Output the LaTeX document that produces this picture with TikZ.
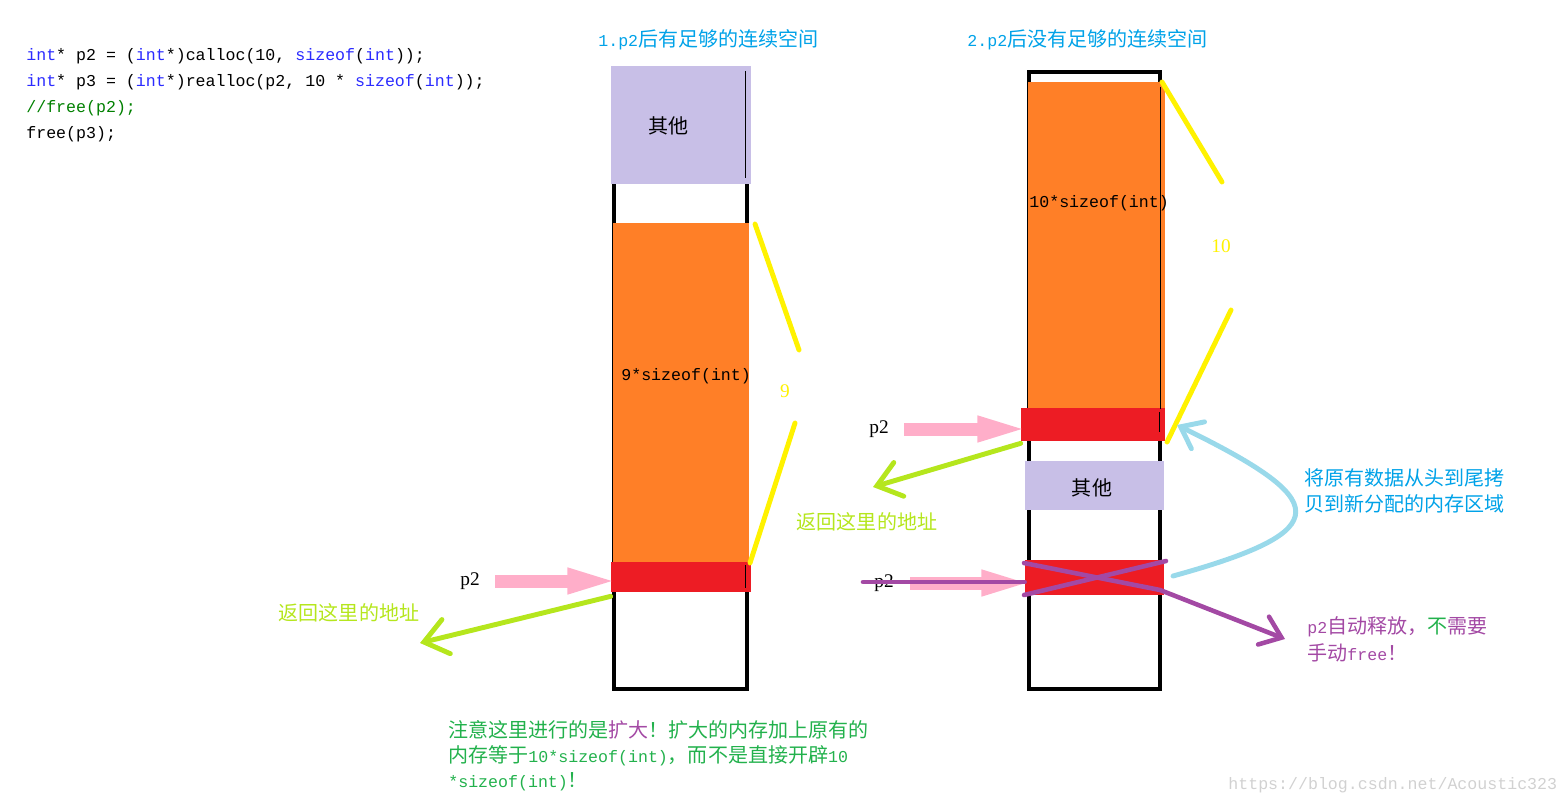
\documentclass[tikz,border=0pt]{standalone}
\usepackage{fontspec}
\setmainfont{Liberation Serif}
\setmonofont{Liberation Mono}
\newfontfamily\zhfont{Noto Sans CJK SC}
\usetikzlibrary{arrows.meta}

\definecolor{lav}{HTML}{C8BFE7}
\definecolor{orng}{HTML}{FF7F27}
\definecolor{redc}{HTML}{ED1C24}
\definecolor{yell}{HTML}{FFF200}
\definecolor{pinkc}{HTML}{FFAEC9}
\definecolor{lime}{HTML}{B5E61D}
\definecolor{skyc}{HTML}{99D9EA}
\definecolor{titleblue}{HTML}{00A2E8}
\definecolor{notegreen}{HTML}{22B14C}
\definecolor{purp}{HTML}{A349A4}
\definecolor{codeblue}{HTML}{2B2BFF}
\definecolor{codegreen}{HTML}{008000}

\newcommand{\cnsize}{\zhfont\fontsize{11.4}{14.7}\selectfont}
\newcommand{\ttsize}{\ttfamily\fontsize{9.45}{14.7}\selectfont}
\newcommand{\rmsize}{\rmfamily\fontsize{11}{14.7}\selectfont}
\newcommand{\kw}[1]{\textcolor{codeblue}{#1}}

\begin{document}
\begin{tikzpicture}[x=0.02cm, y=-0.02cm,
    cell/.style n args={3}{rectangle, inner sep=0pt, fill=#1, minimum width=#2, minimum height=#3},
    txt/.style={inner sep=0pt, anchor=west},
    wall/.style={draw=black, line width=2.27pt},
    pinkarrow/.style={draw=pinkc, line width=7.4pt, shorten >=-0.26cm, -{Triangle[length=32pt, width=12.5pt]}},
    retarrow/.style={draw=lime, line width=2.8pt, line cap=round, -{Straight Barb[length=13pt, width=20pt, line cap=round]}},
    purparrow/.style={draw=purp, line width=2.6pt, line cap=round, -{Straight Barb[length=11pt, width=17pt, line cap=round]}},
    purpline/.style={draw=purp, line width=2.6pt, line cap=round},
    copyarrow/.style={draw=skyc, line width=2.8pt, line cap=round, -{Straight Barb[length=11pt, width=17pt, line cap=round]}},
    bracket/.style={draw=yell, line width=2.8pt, line cap=round}]
    \useasboundingbox (0,0) rectangle (1567,804);

    % code
    \node[txt] (code1) at (26,56) {\ttsize\kw{int}* p2 = (\kw{int}*)calloc(10, \kw{sizeof}(\kw{int}));};
    \node[txt] (code2) at (26,82) {\ttsize\kw{int}* p3 = (\kw{int}*)realloc(p2, 10 * \kw{sizeof}(\kw{int}));};
    \node[txt] (code3) at (26,108) {\ttsize\textcolor{codegreen}{//free(p2);}};
    \node[txt] (code4) at (26,134) {\ttsize free(p3);};

    % titles
    \node[txt, text=titleblue] (title1) at (598,40) {{\ttsize 1.p2}\cnsize 后有足够的连续空间};
    \node[txt, text=titleblue] (title2) at (967,40) {{\ttsize 2.p2}\cnsize 后没有足够的连续空间};

    % case 1
    \draw[wall] (614,72) rectangle (747,689);
    \node[cell={lav}{2.8cm}{2.36cm}] (other1) at (681,125) {};
    \node[cell={orng}{2.72cm}{6.78cm}] (orange1) at (681,392.5) {};
    \node[cell={redc}{2.8cm}{0.6cm}] (red1) at (681,577) {};
    \draw[thin] (745,71) -- (745,178);
    \draw[thin] (745,565) -- (745,588);
    \node[txt] (otherlabel1) at (648,126) {\cnsize 其他};
    \node[txt] (size1) at (621,376) {\ttsize 9*sizeof(int)};
    \node (count1) at (785,391) {\rmsize\textcolor{yell}{9}};
    \draw[bracket] (755,224) -- (799,350);
    \draw[bracket] (795,423) -- (750,563);

    \node[txt] (p2a) at (460,581) {\rmsize p2};
    \draw[pinkarrow, shorten <=0.3cm] (p2a.east) -- (p2a.east -| red1.west);
    \coordinate (ret1) at (420,643);
    \draw[retarrow] ([yshift=-0.08cm]red1.south west) -- (ret1);
    \node (retlabel1) at (349,613) {\cnsize\textcolor{lime}{返回这里的地址}};

    % case 2
    \draw[wall] (1029,72) rectangle (1160,689);
    \node[cell={orng}{2.74cm}{6.52cm}] (orange2) at (1096.5,245) {};
    \node[cell={redc}{2.88cm}{0.66cm}] (red2) at (1093,424.5) {};
    \node[cell={lav}{2.78cm}{0.98cm}] (other2) at (1094.5,485.5) {};
    \node[cell={redc}{2.78cm}{0.7cm}] (red3) at (1094.5,577.5) {};
    \draw[thin] (1160,87) -- (1160,409);
    \draw[thin] (1159,412) -- (1159,432);
    \node[txt] (size2) at (1029,203) {\ttsize 10*sizeof(int)};
    \node (otherlabel2) at (1092,488) {\cnsize 其他};
    \node (count2) at (1221,246) {\rmsize\textcolor{yell}{10}};
    \draw[bracket] (1162,82) -- (1222,182);
    \draw[bracket] (1231,310) -- (1167,442);

    \node[txt] (p2b) at (869,429) {\rmsize p2};
    \draw[pinkarrow, shorten <=0.3cm] (p2b.east) -- (p2b.east -| red2.west);
    \coordinate (ret2) at (873,487);
    \draw[retarrow] ([yshift=-0.04cm]red2.south west) -- (ret2);
    \node (retlabel2) at (867,522) {\cnsize\textcolor{lime}{返回这里的地址}};

    \node[txt] (p2c) at (874,583) {\rmsize p2};
    \draw[pinkarrow, shorten <=0.32cm] (p2c.east) -- (p2c.east -| red3.west);
    \coordinate (cut) at (863,582);
    \draw[purpline] (cut) -- (cut -| red3.west);
    \coordinate (xa) at (1024,563);
    \coordinate (xb) at (1160,590);
    \coordinate (freed) at (1285,639);
    \draw[purpline] (1024,595) -- (1166,561);
    \draw[purparrow] (xa) -- (xb) -- (freed);

    \coordinate (copyfrom) at (1173,576);
    \coordinate (copyto) at (1177,425);
    \draw[copyarrow] (copyfrom) .. controls (1340,530) and (1330,500) .. (copyto);

    % notes
    \node[txt, text=titleblue] (copy1) at (1304,478) {\cnsize 将原有数据从头到尾拷};
    \node[txt, text=titleblue] (copy2) at (1304,504) {\cnsize 贝到新分配的内存区域};
    \node[txt, text=purp] (free1) at (1307,627) {{\ttsize p2}\cnsize 自动释放，\textcolor{notegreen}{不}需要};
    \node[txt, text=purp] (free2) at (1307,653) {\cnsize 手动{\ttsize free}！};

    \node[txt, text=notegreen] (note1) at (448,730) {\cnsize 注意这里进行的是\textcolor{purp}{扩大}！扩大的内存加上原有的};
    \node[txt, text=notegreen] (note2) at (448,756) {\cnsize 内存等于{\ttsize 10*sizeof(int)}，而不是直接开辟{\ttsize 10}};
    \node[txt, text=notegreen] (note3) at (448,782) {{\ttsize *sizeof(int)}\cnsize ！};

    \node[txt, text=black!18] (mark) at (1228,785) {\ttsize https://blog.csdn.net/Acoustic323};
\end{tikzpicture}
\end{document}
